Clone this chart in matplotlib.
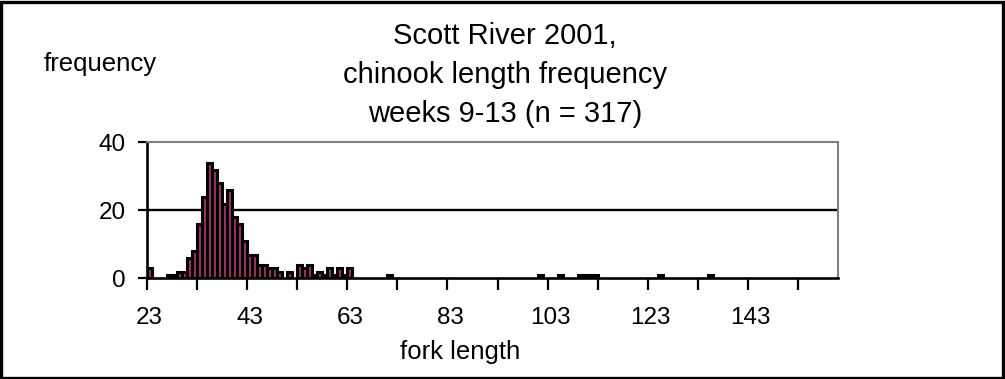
import matplotlib
matplotlib.use("Agg")
import matplotlib.pyplot as plt
from matplotlib.patches import Rectangle

plt.rcParams['font.family'] = ['Liberation Sans', 'DejaVu Sans']

# fork length (mm) classes that had fish, and how many fish in each
fork_length = [23, 27, 28, 29, 30, 31, 32, 33, 34, 35, 36, 37, 38, 39, 40, 41, 42,
               43, 44, 45, 46, 47, 48, 49, 51, 53, 54, 55, 56, 57, 58, 59, 60,
               61, 62, 63, 71, 101, 105, 109, 110, 111, 112, 125, 135]
counts = [3, 1, 1, 2, 2, 6, 8, 16, 24, 34, 32, 28, 22, 26, 18, 16, 11,
          7, 7, 4, 4, 3, 3, 2, 2, 4, 3, 4, 1, 2, 1, 3, 1,
          3, 1, 3, 1, 1, 1, 1, 1, 1, 1, 1, 1]
x_labels = [23, 43, 63, 83, 103, 123, 143]
y_ticks = [0, 20, 40]

title_lines = ["Scott River 2001,", "chinook length frequency",
               "weeks 9-13 (n = 317)"]

fig = plt.figure(figsize=(10.05, 3.79), dpi=100)
ax = fig.add_axes([0.1463, 0.2657, 0.6875, 0.3588])

ax.axhline(20, color='black', lw=1.7, zorder=1)
ax.bar(fork_length, counts, width=1.0, color='#993366',
       edgecolor='black', linewidth=2.2, zorder=2)

ax.set_xlim(22.5, 160.5)
ax.set_ylim(0, 40)

# tick marks sit between classes every 10, labels every 20 classes
ax.set_xticks([22.5 + 10 * i for i in range(14)])
ax.set_xticklabels([])
ax.set_xticks(x_labels, minor=True)
ax.set_xticklabels([str(v) for v in x_labels], minor=True)
ax.tick_params(axis='x', which='major', direction='out', length=8.5, width=1.6)
ax.tick_params(axis='x', which='minor', length=0, pad=21, labelsize=17.5)

ax.set_yticks(y_ticks)
ax.tick_params(axis='y', direction='out', length=6.5, width=1.6, pad=9,
               labelsize=17.5)

for side in ['left', 'bottom']:
    ax.spines[side].set_linewidth(1.9)
    ax.spines[side].set_color('black')
for side in ['top', 'right']:
    ax.spines[side].set_linewidth(1.5)
    ax.spines[side].set_color('#808080')

for i, line in enumerate(title_lines):
    fig.text(0.5025, 0.905 - 0.103 * i, line, ha='center', va='center',
             fontsize=21)

fig.text(0.043, 0.83, "frequency", ha='left', va='center', fontsize=18.5)
fig.text(0.458, 0.071, "fork length", ha='center', va='center', fontsize=18.5)

fig.patches.append(Rectangle((0.001, 0.002), 0.997, 0.993,
                             transform=fig.transFigure, fill=False,
                             edgecolor='black', linewidth=2.4))

fig.savefig("out.png", dpi=100)
